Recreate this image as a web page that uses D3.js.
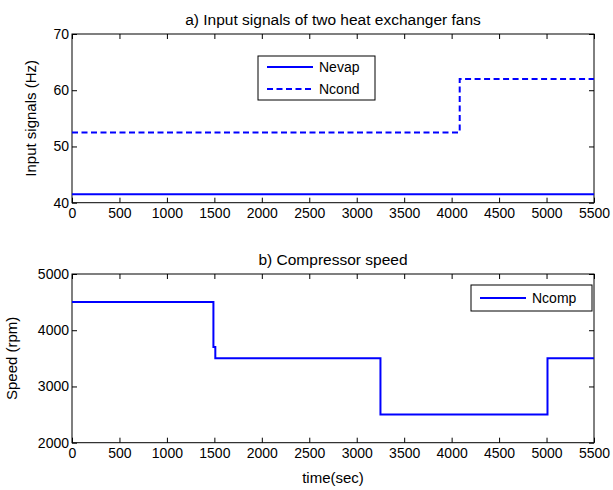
<!DOCTYPE html>
<html>
<head>
<meta charset="utf-8">
<script src="https://cdn.jsdelivr.net/npm/d3@7"></script>
<style>
  html, body { margin: 0; padding: 0; background: #fff; }
  svg text { font-family: "Liberation Sans", Arial, sans-serif; fill: #000; }
</style>
</head>
<body>
<svg id="chart" width="613" height="490"></svg>
<script>
// Time axis ticks (seconds)
const timeTicks = [0, 500, 1000, 1500, 2000, 2500, 3000, 3500, 4000, 4500, 5000, 5500];

// a) Fan input signals (Hz), piecewise constant
const nevapTime = [0, 5500];
const nevapHz = [41.5, 41.5];
const ncondTime = [0, 4085, 5500];
const ncondHz = [52.5, 62, 62];
const fanTicks = [40, 50, 60, 70];

// b) Compressor speed (rpm), piecewise constant
const ncompTime = [0, 1490, 1510, 3250, 5010, 5500];
const ncompRpm = [4500, 3700, 3500, 2500, 3500, 3500];
const speedTicks = [2000, 3000, 4000, 5000];

const svg = d3.select("#chart");
const blue = "#0000ff";
const FONT = "Liberation Sans, Arial, sans-serif";
const fmt = d3.format("d");
const TICK_FS = 14, TITLE_FS = 15.5, LABEL_FS = 15, LEGEND_FS = 14;

function panel(opts) {
  const { top, bottom, yDomain, yTicks, title, ylabel, ylabelX, series, legend } = opts;
  const left = 72, right = 594;
  const x = d3.scaleLinear().domain([0, 5500]).range([left, right]);
  const y = d3.scaleLinear().domain(yDomain).range([bottom, top]);
  const g = svg.append("g");

  // plot box
  g.append("rect")
    .attr("x", left).attr("y", top)
    .attr("width", right - left).attr("height", bottom - top)
    .attr("fill", "none").attr("stroke", "#000").attr("stroke-width", 1);

  // inward ticks on all four sides
  const tl = 5;
  const gxB = g.append("g").attr("transform", `translate(0,${bottom})`)
    .call(d3.axisBottom(x).tickValues(timeTicks).tickFormat(fmt).tickSizeInner(-tl).tickSizeOuter(0).tickPadding(5));
  const gxT = g.append("g").attr("transform", `translate(0,${top})`)
    .call(d3.axisTop(x).tickValues(timeTicks).tickSizeInner(-tl).tickSizeOuter(0).tickFormat(""));
  const gyL = g.append("g").attr("transform", `translate(${left},0)`)
    .call(d3.axisLeft(y).tickValues(yTicks).tickFormat(fmt).tickSizeInner(-tl).tickSizeOuter(0).tickPadding(3));
  const gyR = g.append("g").attr("transform", `translate(${right},0)`)
    .call(d3.axisRight(y).tickValues(yTicks).tickSizeInner(-tl).tickSizeOuter(0).tickFormat(""));
  [gxB, gxT, gyL, gyR].forEach(a => {
    a.select(".domain").remove();
    a.selectAll("line").attr("stroke", "#000");
    a.selectAll("text").attr("font-size", TICK_FS).attr("font-family", FONT).attr("fill", "#000");
  });

  // title
  g.append("text").attr("x", (left + right) / 2).attr("y", top - 9)
    .attr("text-anchor", "middle").attr("font-size", TITLE_FS).text(title);

  // y label
  g.append("text")
    .attr("transform", `translate(${ylabelX},${(top + bottom) / 2}) rotate(-90)`)
    .attr("text-anchor", "middle").attr("font-size", LABEL_FS).text(ylabel);

  // step lines
  series.forEach(s => {
    const pts = s.t.map((t, i) => [t, s.v[i]]);
    const line = d3.line().x(d => x(d[0])).y(d => y(d[1])).curve(d3.curveStepAfter);
    g.append("path").datum(pts)
      .attr("d", line)
      .attr("fill", "none").attr("stroke", blue).attr("stroke-width", 2)
      .attr("stroke-dasharray", s.dash || null);
  });

  // legend
  const lg = g.append("g");
  lg.append("rect")
    .attr("x", legend.x).attr("y", legend.y)
    .attr("width", legend.w).attr("height", legend.h)
    .attr("fill", "#fff").attr("stroke", "#000").attr("stroke-width", 1);
  legend.items.forEach((it, i) => {
    const cy = legend.y + legend.first + i * legend.step;
    lg.append("line")
      .attr("x1", legend.x + 9).attr("x2", legend.x + 55)
      .attr("y1", cy).attr("y2", cy)
      .attr("stroke", blue).attr("stroke-width", 2)
      .attr("stroke-dasharray", it.dash || null);
    lg.append("text").attr("x", legend.x + 61).attr("y", cy + 5)
      .attr("font-size", LEGEND_FS).text(it.name);
  });
  return { x, y };
}

panel({
  top: 34, bottom: 202.7,
  yDomain: [40, 70], yTicks: fanTicks,
  title: "a) Input signals of two heat exchanger fans",
  ylabel: "Input signals (Hz)", ylabelX: 36,
  series: [
    { t: nevapTime, v: nevapHz },
    { t: ncondTime, v: ncondHz, dash: "6,3.5" }
  ],
  legend: { x: 258, y: 56, w: 117, h: 44, first: 11, step: 22,
    items: [{ name: "Nevap" }, { name: "Ncond", dash: "6,3.5" }] }
});

panel({
  top: 274, bottom: 442.7,
  yDomain: [2000, 5000], yTicks: speedTicks,
  title: "b) Compressor speed",
  ylabel: "Speed (rpm)", ylabelX: 17,
  series: [{ t: ncompTime, v: ncompRpm }],
  legend: { x: 471, y: 285, w: 121, h: 26, first: 13, step: 22,
    items: [{ name: "Ncomp" }] }
});

// x-axis label
svg.append("text").attr("x", 333).attr("y", 483)
  .attr("text-anchor", "middle").attr("font-size", LABEL_FS).text("time(sec)");
</script>
</body>
</html>
